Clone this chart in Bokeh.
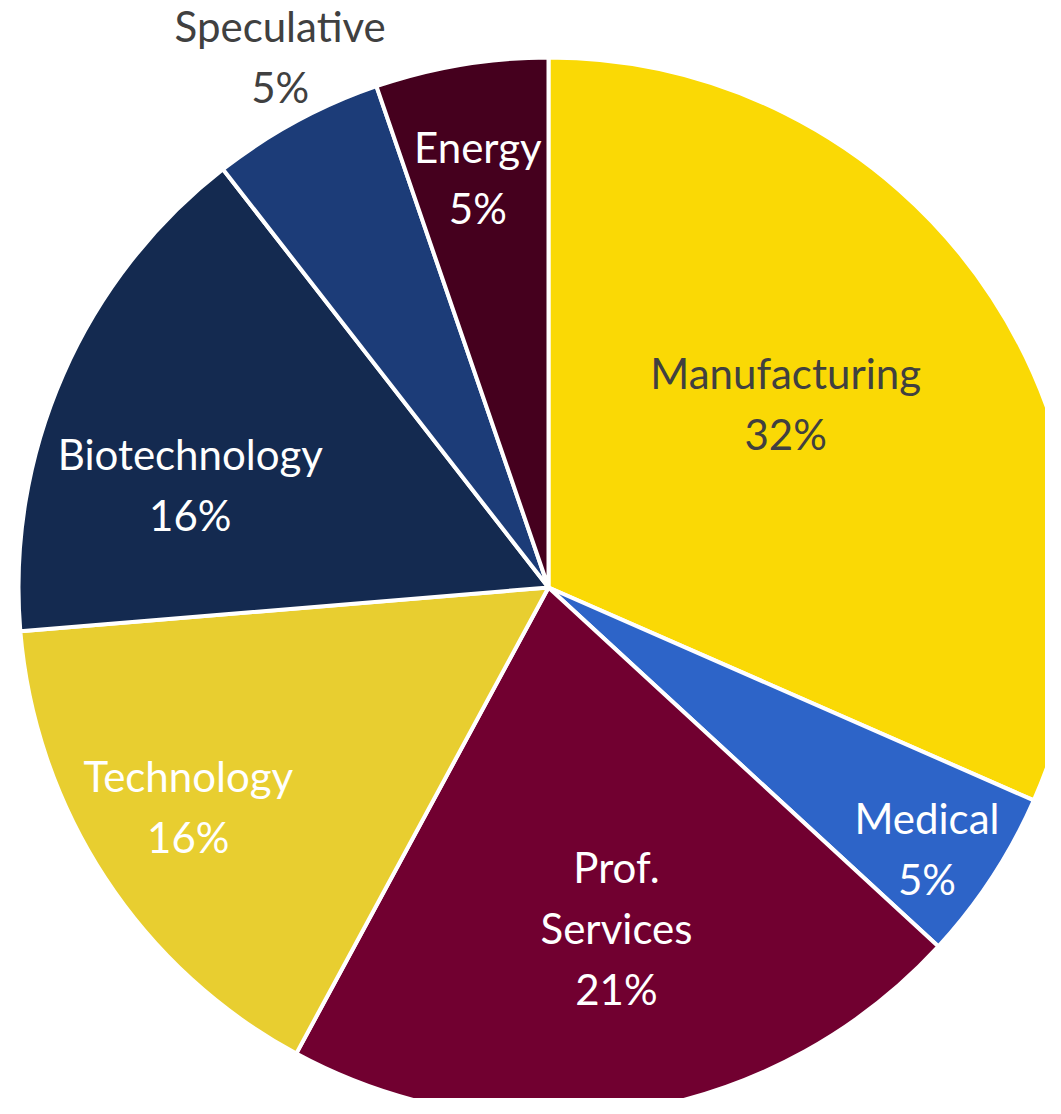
import math
from bokeh.plotting import figure
from bokeh.models import Range1d, ColumnDataSource
from bokeh.core.properties import value
from bokeh.embed import file_html
from bokeh.resources import INLINE

# ---- data ----
categories = ["Manufacturing", "Medical", "Prof.\nServices", "Technology",
              "Biotechnology", "Speculative", "Energy"]
counts = [6, 1, 4, 3, 3, 1, 1]

# ---- style ----
colors = ["#FAD905", "#2D64C8", "#710030", "#E8CE30", "#142A50", "#1C3C78", "#45001E"]
text_colors = ["#404040", "#FFFFFF", "#FFFFFF", "#FFFFFF", "#FFFFFF", "#404040", "#FFFFFF"]
label_radius = [0.566, 0.867, 0.656, 0.795, 0.703, 1.122, 0.785]
label_shift_deg = [-4.6, 1.4, -1.8, 1.9, -7.7, 1.6, -0.3]

W, H = 1045, 1098
CX, CY, R = 548, -587, 530   # pie centre / radius in plot units (= pixels)

total = sum(counts)
starts, ends, lx, ly, texts = [], [], [], [], []
cum = 0
for i, c in enumerate(counts):
    a0 = cum / total
    cum += c
    a1 = cum / total
    starts.append(math.pi / 2 - 2 * math.pi * a0)
    ends.append(math.pi / 2 - 2 * math.pi * a1)
    mid = 2 * math.pi * (a0 + a1) / 2 + math.radians(label_shift_deg[i])
    lx.append(CX + label_radius[i] * R * math.sin(mid))
    ly.append(CY + label_radius[i] * R * math.cos(mid))
    texts.append(f"{categories[i]}\n{round(100 * c / total)}%")

src = ColumnDataSource(dict(start=starts, end=ends, color=colors,
                            lx=lx, ly=ly, text=texts, tcolor=text_colors))

p = figure(width=W, height=H, output_backend="svg", toolbar_location=None,
           x_range=Range1d(0, W), y_range=Range1d(-H, 0),
           min_border=0, outline_line_color=None)
p.axis.visible = False
p.grid.visible = False
p.background_fill_color = "white"
p.border_fill_color = "white"

p.wedge(x=CX, y=CY, radius=R, start_angle="start", end_angle="end",
        direction="clock", fill_color="color", line_color="white",
        line_width=4, source=src)

p.text(x="lx", y="ly", text="text", source=src, text_color="tcolor",
       text_font=value("Lato"), text_font_size="42px",
       text_align="center", text_baseline="middle", text_line_height=1.22)

open("out.html", "w").write(file_html(p, INLINE))
